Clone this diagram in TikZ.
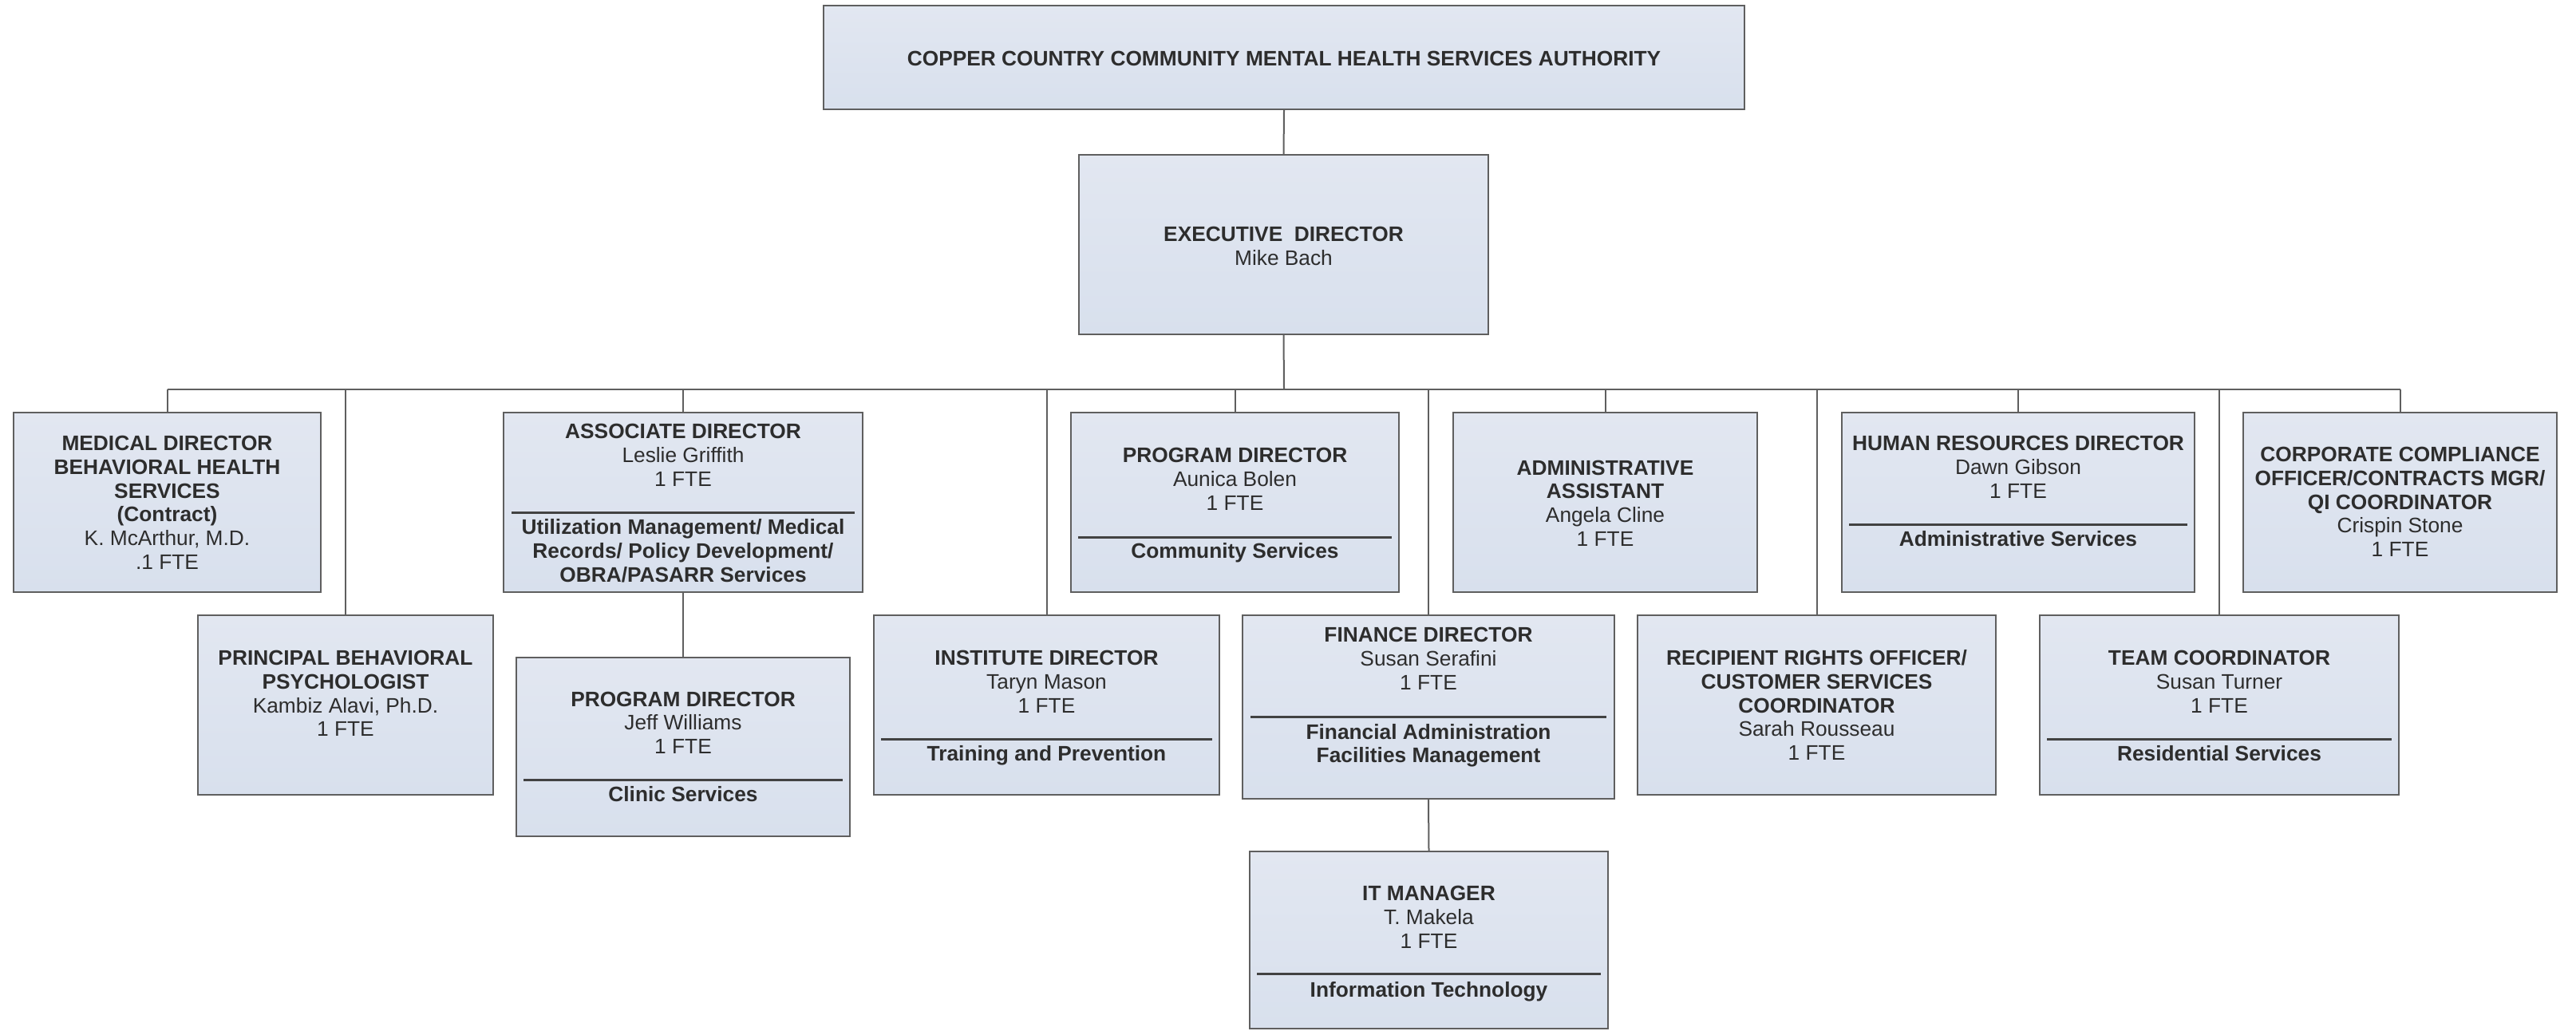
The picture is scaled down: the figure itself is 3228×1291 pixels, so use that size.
\documentclass[tikz,border=0pt]{standalone}
\usepackage{fontspec}
\setmainfont{Liberation Sans}
\definecolor{boxtop}{RGB}{226,231,241}
\definecolor{boxbot}{RGB}{216,224,237}
\definecolor{edge}{RGB}{95,95,95}
\definecolor{ink}{RGB}{45,45,45}
\newcommand\boxlines[4]{%
  \foreach [count=\i] \t in {#4} {%
    \node[txt] (#1-\i) at (#2, {#3+1.5+29.8*(\i-1)}) {\t};
  }}
\begin{document}
\begin{tikzpicture}[x=1pt,y=-1pt,
  orgbox/.style={draw=edge, line width=2pt, top color=boxtop, bottom color=boxbot,
    rectangle, inner sep=0pt},
  txt/.style={anchor=base, inner sep=0pt, text=ink, font=\fontsize{26.3}{30}\selectfont},
  link/.style={draw=edge, line width=2pt},
  sep/.style={draw=ink!90, line width=3pt}]
\useasboundingbox (0,0) rectangle (3228,1291);

% boxes
\node[orgbox, minimum width=1154pt, minimum height=130pt] (top) at (1609,72) {};
\node[orgbox, minimum width=513pt, minimum height=225pt] (exec) at (1608.5,306.5) {};
\node[orgbox, minimum width=385pt, minimum height=225pt] (med) at (209.5,629.5) {};
\node[orgbox, minimum width=450pt, minimum height=225pt] (asc) at (856,629.5) {};
\node[orgbox, minimum width=411pt, minimum height=225pt] (aun) at (1547.5,629.5) {};
\node[orgbox, minimum width=381pt, minimum height=225pt] (adm) at (2011.5,629.5) {};
\node[orgbox, minimum width=442pt, minimum height=225pt] (hr) at (2529,629.5) {};
\node[orgbox, minimum width=393pt, minimum height=225pt] (corp) at (3007.5,629.5) {};
\node[orgbox, minimum width=370pt, minimum height=225pt] (prin) at (433,883.5) {};
\node[orgbox, minimum width=433pt, minimum height=225pt] (inst) at (1311.5,883.5) {};
\node[orgbox, minimum width=466pt, minimum height=230pt] (fin) at (1790,886) {};
\node[orgbox, minimum width=449pt, minimum height=225pt] (rec) at (2276.5,883.5) {};
\node[orgbox, minimum width=450pt, minimum height=225pt] (team) at (2781,883.5) {};
\node[orgbox, minimum width=418pt, minimum height=224pt] (jeff) at (856,936) {};
\node[orgbox, minimum width=449pt, minimum height=222pt] (it) at (1790.5,1178) {};

% connectors
\coordinate (bus) at (1609,488);
\draw[link] (top.south) -- (exec.north);
\draw[link] (exec.south) -- (bus);
\draw[link] (bus -| med.north) -- (bus -| corp.north);
\foreach \b in {med,prin,asc,inst,aun,fin,adm,rec,hr,team,corp}
  \draw[link] (bus -| \b.north) -- (\b.north);
\draw[link] (asc.south) -- (jeff.north);
\draw[link] (fin.south) -- (it.north);

% texts
\boxlines{top}{1609}{81}{\textbf{COPPER COUNTRY COMMUNITY MENTAL HEALTH SERVICES AUTHORITY}}
\boxlines{exec}{1608.5}{301}{\textbf{EXECUTIVE\ \ DIRECTOR},Mike Bach}
\boxlines{med}{209.5}{563}{\textbf{MEDICAL DIRECTOR},\textbf{BEHAVIORAL HEALTH},\textbf{SERVICES},\textbf{(Contract)},{K. McArthur, M.D.},.1 FTE}
\boxlines{asc}{856}{548}{\textbf{ASSOCIATE DIRECTOR},Leslie Griffith,1 FTE}
\boxlines{ascb}{856}{668}{\textbf{Utilization Management/ Medical},\textbf{Records/ Policy Development/},\textbf{OBRA/PASARR Services}}
\boxlines{aun}{1547.5}{578}{\textbf{PROGRAM DIRECTOR},Aunica Bolen,1 FTE}
\boxlines{aunb}{1547.5}{698}{\textbf{Community Services}}
\boxlines{adm}{2011.5}{593.6}{\textbf{ADMINISTRATIVE},\textbf{ASSISTANT},Angela Cline,1 FTE}
\boxlines{hr}{2529}{563}{\textbf{HUMAN RESOURCES DIRECTOR},Dawn Gibson,1 FTE}
\boxlines{hrb}{2529}{683}{\textbf{Administrative Services}}
\boxlines{corp}{3007.5}{577}{\textbf{CORPORATE COMPLIANCE},\textbf{OFFICER/CONTRACTS MGR/},\textbf{QI COORDINATOR},Crispin Stone,1 FTE}
\boxlines{prin}{433}{832}{\textbf{PRINCIPAL BEHAVIORAL},\textbf{PSYCHOLOGIST},{Kambiz Alavi, Ph.D.},1 FTE}
\boxlines{jeff}{856}{883.6}{\textbf{PROGRAM DIRECTOR},Jeff Williams,1 FTE}
\boxlines{jeffb}{856}{1003}{\textbf{Clinic Services}}
\boxlines{inst}{1311.5}{832}{\textbf{INSTITUTE DIRECTOR},Taryn Mason,1 FTE}
\boxlines{instb}{1311.5}{952}{\textbf{Training and Prevention}}
\boxlines{fin}{1790}{803}{\textbf{FINANCE DIRECTOR},Susan Serafini,1 FTE}
\boxlines{finb}{1790}{924.6}{\textbf{Financial Administration},\textbf{Facilities Management}}
\boxlines{rec}{2276.5}{832}{\textbf{RECIPIENT RIGHTS OFFICER/},\textbf{CUSTOMER SERVICES},\textbf{COORDINATOR},Sarah Rousseau,1 FTE}
\boxlines{team}{2781}{832}{\textbf{TEAM COORDINATOR},Susan Turner,1 FTE}
\boxlines{teamb}{2781}{952}{\textbf{Residential Services}}
\boxlines{it}{1790.5}{1127}{\textbf{IT MANAGER},T. Makela,1 FTE}
\boxlines{itb}{1790.5}{1247.7}{\textbf{Information Technology}}

% separators
\draw[sep] (641,642.5) -- (1071,642.5);
\draw[sep] (1351,673) -- (1744,673);
\draw[sep] (2317,657) -- (2741,657);
\draw[sep] (656,977.5) -- (1056,977.5);
\draw[sep] (1104,926.5) -- (1519,926.5);
\draw[sep] (1567,898.5) -- (2013,898.5);
\draw[sep] (2565,926.5) -- (2997,926.5);
\draw[sep] (1575,1220.7) -- (2006,1220.7);
\end{tikzpicture}
\end{document}
